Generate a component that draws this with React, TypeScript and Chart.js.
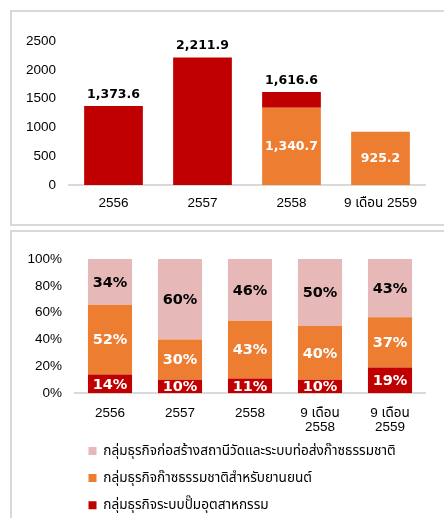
import React, { useEffect, useRef } from "react";
import { Chart, registerables } from "chart.js";

Chart.register(...registerables);

// ---------- Data: top chart (revenue, million baht) ----------
const revenueCategories = ["2556", "2557", "2558", "9 เดือน 2559"];
const revenueTotals = [1373.6, 2211.9, 1616.6, 925.2];
const ngvRevenue: (number | null)[] = [null, null, 1340.7, 925.2];
const revenueTicks = [0, 500, 1000, 1500, 2000, 2500];

// ---------- Data: bottom chart (share, %) ----------
const shareCategories: (string | string[])[] = [
  "2556",
  "2557",
  "2558",
  ["9 เดือน", "2558"],
  ["9 เดือน", "2559"],
];
const pumpShare = [14, 10, 11, 10, 19];
const ngvShare = [52, 30, 43, 40, 37];
const stationShare = [34, 60, 46, 50, 43];
const shareSeriesNames = [
  "กลุ่มธุรกิจระบบปั๊มอุตสาหกรรม",
  "กลุ่มธุรกิจก๊าซธรรมชาติสำหรับยานยนต์",
  "กลุ่มธุรกิจก่อสร้างสถานีวัดและระบบท่อส่งก๊าซธรรมชาติ",
];

const RED = "#C00000";
const ORANGE = "#ED7D31";
const PINK = "#E6B9B8";
const GRID = "#D9D9D9";
const TICK_FONT = "'Liberation Sans', Arial, 'Noto Sans Thai', Tahoma, sans-serif";
const BOLD_FONT = "'DejaVu Sans', Verdana, sans-serif";

const fmt = (v: number) =>
  v.toLocaleString("en-US", { minimumFractionDigits: 1, maximumFractionDigits: 1 });

// derived series for top chart
const pumpRevenue = revenueTotals.map((t, i) => {
  const r = t - (ngvRevenue[i] ?? 0);
  return r > 0.0001 ? Math.round(r * 10) / 10 : null;
});

// normalized shares for 100% stack
const shareSums = pumpShare.map((v, i) => v + ngvShare[i] + stationShare[i]);
const norm = (arr: number[]) => arr.map((v, i) => (v / shareSums[i]) * 100);

const valueLabelPlugin = {
  id: "valueLabels",
  afterDatasetsDraw(chart: any, _args: any, opts: any) {
    const { ctx, chartArea } = chart;
    ctx.save();
    ctx.textAlign = "center";
    ctx.textBaseline = "middle";
    ctx.font = opts.font;
    if (opts.clip) {
      ctx.beginPath();
      ctx.rect(chartArea.left, chartArea.top, chartArea.right - chartArea.left, chartArea.bottom - chartArea.top);
      ctx.clip();
    }
    chart.data.datasets.forEach((ds: any, di: number) => {
      if (!ds.labelTexts) return;
      const meta = chart.getDatasetMeta(di);
      meta.data.forEach((el: any, i: number) => {
        const txt = ds.labelTexts[i];
        if (txt == null || ds.data[i] == null) return;
        ctx.fillStyle = ds.labelColor;
        ctx.fillText(txt, el.x, (el.y + el.base) / 2 + (opts.shift || 0));
      });
    });
    ctx.restore();
    if (opts.above) {
      ctx.save();
      ctx.textAlign = "center";
      ctx.textBaseline = "middle";
      ctx.font = opts.font;
      ctx.fillStyle = "#000000";
      opts.above.forEach((txt: string | null, i: number) => {
        if (txt == null) return;
        let top = Infinity;
        let x = 0;
        chart.data.datasets.forEach((ds: any, di: number) => {
          if (ds.data[i] == null) return;
          const el = chart.getDatasetMeta(di).data[i] as any;
          if (el.y < top) {
            top = el.y;
            x = el.x;
          }
        });
        ctx.fillText(txt, x, top - opts.aboveOffset);
      });
      ctx.restore();
    }
  },
};

export default function App() {
  const topRef = useRef<HTMLCanvasElement>(null);
  const botRef = useRef<HTMLCanvasElement>(null);

  useEffect(() => {
    const topChart = new Chart(topRef.current!, {
      type: "bar",
      data: {
        labels: revenueCategories,
        datasets: [
          {
            label: "NGV",
            data: ngvRevenue,
            backgroundColor: ORANGE,
            borderWidth: 0,
            labelTexts: ngvRevenue.map((v) => (v == null ? null : fmt(v))),
            labelColor: "#FFFFFF",
          } as any,
          {
            label: "Pump",
            data: pumpRevenue,
            backgroundColor: RED,
            borderWidth: 0,
          } as any,
        ],
      },
      options: {
        animation: false,
        responsive: true,
        maintainAspectRatio: false,
        layout: { padding: { left: 0, right: 19, top: 29, bottom: 0 } },
        datasets: { bar: { categoryPercentage: 1, barPercentage: 0.66 } },
        scales: {
          x: {
            stacked: true,
            grid: { display: false, drawTicks: false },
            border: { display: true, color: GRID, width: 2 },
            ticks: { color: "#000", padding: 10, font: { family: TICK_FONT, size: 13.5 } },
            afterFit: (s: any) => {
              s.height = 39;
              s._computeLabelArea = () => null;
            },
          },
          y: {
            stacked: true,
            min: 0,
            max: 2500,
            grid: { display: false, drawTicks: false },
            border: { display: false },
            afterBuildTicks: (s: any) => {
              s.ticks = revenueTicks.map((v) => ({ value: v }));
            },
            ticks: {
              color: "#000",
              padding: 13,
              font: { family: TICK_FONT, size: 13.5 },
              callback: (v: any) => String(v),
            },
            afterFit: (s: any) => {
              s.width = 57;
            },
          },
        },
        plugins: {
          legend: { display: false },
          tooltip: { enabled: false },
          valueLabels: {
            font: `bold 12.5px ${BOLD_FONT}`,
            clip: false,
            above: revenueTotals.map((t, i) => (pumpRevenue[i] == null ? null : fmt(t))),
            aboveOffset: 11.5,
          },
        } as any,
      },
      plugins: [valueLabelPlugin],
    });

    const botChart = new Chart(botRef.current!, {
      type: "bar",
      data: {
        labels: shareCategories,
        datasets: [
          {
            label: shareSeriesNames[0],
            data: norm(pumpShare),
            backgroundColor: RED,
            borderWidth: 0,
            labelTexts: pumpShare.map((v) => v + "%"),
            labelColor: "#FFFFFF",
          } as any,
          {
            label: shareSeriesNames[1],
            data: norm(ngvShare),
            backgroundColor: ORANGE,
            borderWidth: 0,
            labelTexts: ngvShare.map((v) => v + "%"),
            labelColor: "#FFFFFF",
          } as any,
          {
            label: shareSeriesNames[2],
            data: norm(stationShare),
            backgroundColor: PINK,
            borderWidth: 0,
            labelTexts: stationShare.map((v) => v + "%"),
            labelColor: "#000000",
          } as any,
        ],
      },
      options: {
        animation: false,
        responsive: true,
        maintainAspectRatio: false,
        layout: { padding: { left: 0, right: 19, top: 27, bottom: 0 } },
        datasets: { bar: { categoryPercentage: 1, barPercentage: 0.63 } },
        scales: {
          x: {
            stacked: true,
            grid: { display: false, drawTicks: false },
            border: { display: true, color: GRID, width: 2 },
            ticks: {
              color: "#000",
              padding: 12.5,
              font: { family: TICK_FONT, size: 13.5, lineHeight: 1.06 },
            },
            afterFit: (s: any) => {
              s.height = 37.5;
              s._computeLabelArea = () => null;
            },
          },
          y: {
            stacked: true,
            min: 0,
            max: 100,
            grid: { display: false, drawTicks: false },
            border: { display: false },
            ticks: {
              stepSize: 20,
              color: "#000",
              padding: 13,
              font: { family: TICK_FONT, size: 13.5 },
              callback: (v: any) => v + "%",
            },
            afterFit: (s: any) => {
              s.width = 63;
            },
          },
        },
        plugins: {
          legend: {
            display: true,
            position: "bottom",
            align: "start",
            fullSize: false,
            reverse: true,
            labels: {
              boxWidth: 8,
              boxHeight: 8,
              padding: 13.5,
              color: "#000",
              font: { family: TICK_FONT, size: 13.6 },
            },
          },
          tooltip: { enabled: false },
          valueLabels: {
            font: `bold 14.5px ${BOLD_FONT}`,
            clip: true,
            shift: 1,
          },
        } as any,
      },
      plugins: [valueLabelPlugin],
    });

    return () => {
      topChart.destroy();
      botChart.destroy();
    };
  }, []);

  const boxBase: React.CSSProperties = {
    position: "fixed",
    left: 10,
    width: 450,
    boxSizing: "border-box",
    borderStyle: "solid",
    borderColor: GRID,
    background: "#fff",
  };

  return (
    <div>
      <div style={{ ...boxBase, top: 10, height: 216, borderWidth: 2 }}>
        <div style={{ position: "relative", width: 432, height: 212 }}>
          <canvas ref={topRef} />
        </div>
      </div>
      <div style={{ ...boxBase, top: 230, height: 300, borderWidth: 2 }}>
        <div style={{ position: "relative", width: 432, height: 290 }}>
          <canvas ref={botRef} />
        </div>
      </div>
    </div>
  );
}
